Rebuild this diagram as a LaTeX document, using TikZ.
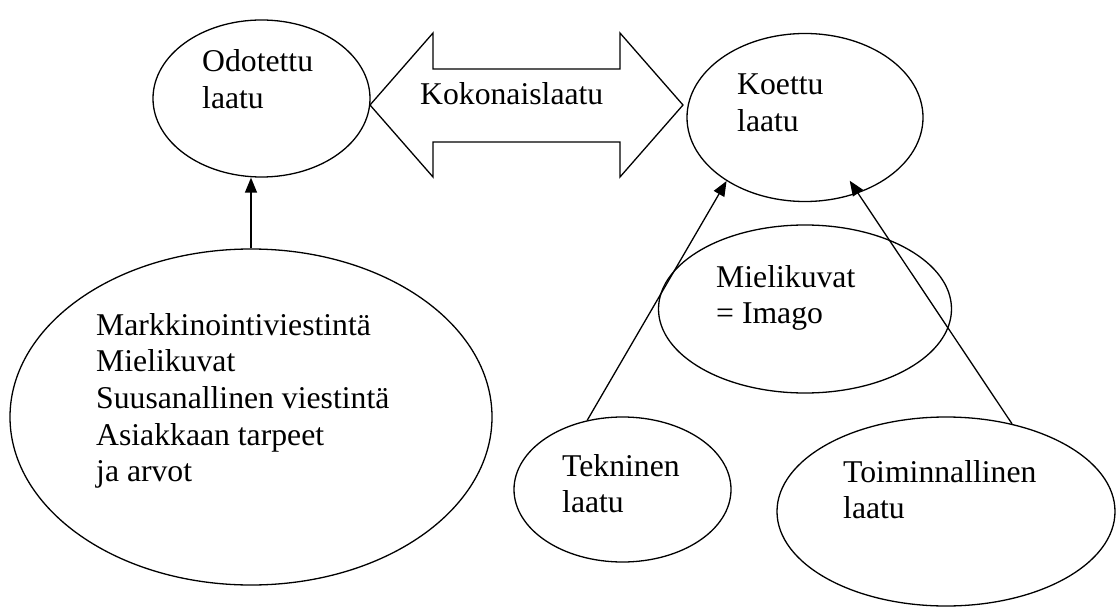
\documentclass[tikz,border=0pt]{standalone}
\usepackage{fontspec}
\setmainfont{Liberation Serif}
\usetikzlibrary{shapes.geometric,arrows.meta}
\tikzset{
  oval/.style={ellipse,draw,line width=1.3pt,inner sep=0pt},
  lbl/.style={anchor=base west,inner sep=0pt,align=left,font=\fontsize{31.7}{36.7}\selectfont},
  arr/.style={line width=1.3pt,-{Triangle[length=15pt,width=12pt]}}
}
\begin{document}
\begin{tikzpicture}[x=1pt,y=-1pt]
\useasboundingbox (0,0) rectangle (1117,607);
% ellipses
\node[oval,minimum width=217pt,minimum height=157pt] (odo) at (261.5,98.5) {};
\node[oval,minimum width=236pt,minimum height=168pt] (koe) at (805,117.5) {};
\node[oval,minimum width=482pt,minimum height=336pt] (big) at (251,417) {};
\node[oval,minimum width=293pt,minimum height=168pt] (mie) at (805,309) {};
\node[oval,minimum width=217pt,minimum height=145pt] (tek) at (622.5,489.5) {};
\node[oval,minimum width=338pt,minimum height=189pt] (toi) at (946,511.5) {};
% double arrow
\draw[line width=1.3pt,line join=miter] (370,105) -- (433,33) -- (433,69) -- (620,69) -- (620,33) -- (683,105)
  -- (620,177) -- (620,142) -- (433,142) -- (433,177) -- cycle;
% texts (anchor at the baseline of the last line)
\node[lbl] (tkok) at (420,105) {Kokonaislaatu};
\node[lbl] (todo) at (202,108.7) {Odotettu\\laatu};
\node[lbl] (tkoe) at (737,131.7) {Koettu\\laatu};
\node[lbl] (tbig) at (96,481.8) {Markkinointiviestintä\\Mielikuvat\\Suusanallinen viestintä\\Asiakkaan tarpeet\\ja arvot};
\node[lbl] (tmie) at (716,323.7) {Mielikuvat\\= Imago};
\node[lbl] (ttek) at (562,512.7) {Tekninen\\laatu};
\node[lbl] (ttoi) at (843,518.7) {Toiminnallinen\\laatu};
% connectors
\draw[arr] (big.north) -- (big.north |- odo.south);
\draw[arr] (tek.117) -- (koe.219);
\draw[arr,shorten >=-15pt] (toi.53) -- (koe.305);
\end{tikzpicture}
\end{document}
